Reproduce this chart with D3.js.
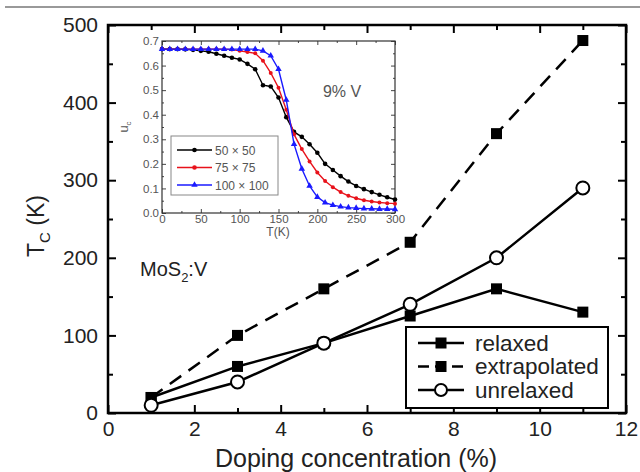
<!DOCTYPE html>
<html>
<head>
<meta charset="utf-8">
<script src="https://cdn.jsdelivr.net/npm/d3@7"></script>
<style>
  body { margin: 0; background: #fff; }
  svg text { font-family: "Liberation Sans", Arial, sans-serif; }
</style>
</head>
<body>
<svg width="640" height="472"></svg>
<script>
// main chart data
const doping = [1, 3, 5, 7, 9, 11];
const relaxed = [20, 60, 90, 125, 160, 130];
const extrapolated = [20, 100, 160, 220, 360, 480];
const unrelaxed = [10, 40, 90, 140, 200, 290];
const xTicks = [0, 2, 4, 6, 8, 10, 12];
const yTicks = [0, 100, 200, 300, 400, 500];

// inset data (9% V)
const insetT = [0, 10, 20, 30, 40, 50, 60, 70, 80, 90, 100, 110, 120, 130, 140, 150,
    160, 170, 180, 190, 200, 210, 220, 230, 240, 250, 260, 270, 280, 290, 300];
const u50 = [0.667, 0.667, 0.667, 0.666, 0.664, 0.660, 0.656, 0.648, 0.640, 0.632, 0.625,
    0.607, 0.585, 0.520, 0.515, 0.470, 0.390, 0.330, 0.310, 0.280, 0.245, 0.200, 0.175,
    0.150, 0.128, 0.110, 0.097, 0.085, 0.074, 0.064, 0.055];
const u75 = [0.667, 0.667, 0.667, 0.667, 0.667, 0.667, 0.667, 0.667, 0.667, 0.665, 0.660,
    0.655, 0.650, 0.620, 0.570, 0.510, 0.420, 0.320, 0.260, 0.210, 0.165, 0.130, 0.105,
    0.085, 0.070, 0.060, 0.052, 0.047, 0.043, 0.040, 0.038];
const u100 = [0.667, 0.667, 0.667, 0.667, 0.667, 0.667, 0.667, 0.667, 0.667, 0.667, 0.667,
    0.667, 0.667, 0.660, 0.640, 0.585, 0.460, 0.280, 0.180, 0.110, 0.065, 0.042, 0.032,
    0.026, 0.022, 0.020, 0.018, 0.017, 0.016, 0.016, 0.015];
const insetLabels = ["50 \u00d7 50", "75 \u00d7 75", "100 \u00d7 100"];
const insetColors = ["#000000", "#e8121b", "#1a1aff"];

var svg = d3.select("svg");

// cut-off line at the top of the scan
svg.append("line")
    .attr("x1", 5).attr("x2", 640).attr("y1", 7).attr("y2", 7)
    .attr("stroke", "#777").attr("stroke-width", 1.5);

var pLeft = 108, pRight = 626, pTop = 25, pBottom = 413;
var x = d3.scaleLinear().domain([0, 12]).range([pLeft, pRight]);
var y = d3.scaleLinear().domain([0, 500]).range([pBottom, pTop]);

function styleAxis(g, size) {
    g.select(".domain").remove();
    g.selectAll(".tick line").attr("stroke", "#000").attr("stroke-width", 2);
    g.selectAll("text").attr("fill", "#222").style("font-size", size + "px")
        .style("font-family", "'Liberation Sans', Arial, sans-serif");
}

var xMinor = [1, 3, 5, 7, 9, 11];
var yMinor = [50, 150, 250, 350, 450];

// major + minor ticks, inward, on all four sides
svg.append("g").attr("transform", "translate(0," + pBottom + ")")
    .call(d3.axisBottom(x).tickValues(xTicks).tickSize(-8).tickPadding(8).tickFormat(d3.format("d")))
    .call(g => styleAxis(g, 21));
svg.append("g").attr("transform", "translate(0," + pBottom + ")")
    .call(d3.axisBottom(x).tickValues(xMinor).tickSize(-5).tickFormat(""))
    .call(g => styleAxis(g, 21));
svg.append("g").attr("transform", "translate(0," + pTop + ")")
    .call(d3.axisTop(x).tickValues(xTicks).tickSize(-8).tickFormat(""))
    .call(g => styleAxis(g, 21));
svg.append("g").attr("transform", "translate(0," + pTop + ")")
    .call(d3.axisTop(x).tickValues(xMinor).tickSize(-5).tickFormat(""))
    .call(g => styleAxis(g, 21));
svg.append("g").attr("transform", "translate(" + pLeft + ",0)")
    .call(d3.axisLeft(y).tickValues(yTicks).tickSize(-8).tickPadding(10))
    .call(g => styleAxis(g, 21));
svg.append("g").attr("transform", "translate(" + pLeft + ",0)")
    .call(d3.axisLeft(y).tickValues(yMinor).tickSize(-5).tickFormat(""))
    .call(g => styleAxis(g, 21));
svg.append("g").attr("transform", "translate(" + pRight + ",0)")
    .call(d3.axisRight(y).tickValues(yTicks).tickSize(-8).tickFormat(""))
    .call(g => styleAxis(g, 21));
svg.append("g").attr("transform", "translate(" + pRight + ",0)")
    .call(d3.axisRight(y).tickValues(yMinor).tickSize(-5).tickFormat(""))
    .call(g => styleAxis(g, 21));

svg.append("rect")
    .attr("x", pLeft).attr("y", pTop).attr("width", pRight - pLeft).attr("height", pBottom - pTop)
    .attr("fill", "none").attr("stroke", "#000").attr("stroke-width", 2.5);

// axis titles
svg.append("text")
    .attr("x", 356).attr("y", 467)
    .attr("text-anchor", "middle").attr("fill", "#222").style("font-size", "25px")
    .text("Doping concentration (%)");
var yt = svg.append("text")
    .attr("transform", "translate(44,226) rotate(-90)")
    .attr("text-anchor", "middle").attr("fill", "#222").style("font-size", "23px");
yt.append("tspan").text("T");
yt.append("tspan").attr("dy", 6).style("font-size", "15px").text("C");
yt.append("tspan").attr("dy", -6).text(" (K)");

var mos = svg.append("text").attr("x", 140).attr("y", 276).attr("fill", "#222").style("font-size", "20px");
mos.append("tspan").text("MoS");
mos.append("tspan").attr("dy", 6).style("font-size", "13px").text("2");
mos.append("tspan").attr("dy", -6).text(":V");

// series
var line = d3.line().x(d => x(d[0])).y(d => y(d[1]));
function pairs(vals) { return doping.map((d, i) => [d, vals[i]]); }

svg.append("path").datum(pairs(extrapolated)).attr("d", line)
    .attr("fill", "none").attr("stroke", "#000").attr("stroke-width", 2.5)
    .attr("stroke-dasharray", "14,9");
svg.append("path").datum(pairs(relaxed)).attr("d", line)
    .attr("fill", "none").attr("stroke", "#000").attr("stroke-width", 2.5);
svg.append("path").datum(pairs(unrelaxed)).attr("d", line)
    .attr("fill", "none").attr("stroke", "#000").attr("stroke-width", 2.5);

[extrapolated, relaxed].forEach(function(vals) {
    svg.append("g").selectAll("rect").data(pairs(vals)).enter().append("rect")
        .attr("x", d => x(d[0]) - 5.5).attr("y", d => y(d[1]) - 5.5)
        .attr("width", 11).attr("height", 11).attr("fill", "#000");
});
svg.append("g").selectAll("circle").data(pairs(unrelaxed)).enter().append("circle")
    .attr("cx", d => x(d[0])).attr("cy", d => y(d[1])).attr("r", 6.5)
    .attr("fill", "#fff").attr("stroke", "#000").attr("stroke-width", 2);

// legend
var lg = svg.append("g");
lg.append("rect").attr("x", 406).attr("y", 327).attr("width", 202).attr("height", 81)
    .attr("fill", "#fff").attr("stroke", "#000").attr("stroke-width", 2);
var legendItems = [
    { name: "relaxed", dash: null, mark: "square" },
    { name: "extrapolated", dash: "11,6", mark: "square" },
    { name: "unrelaxed", dash: null, mark: "circle" }
];
legendItems.forEach(function(it, i) {
    var cy = 343 + i * 23.5;
    lg.append("line").attr("x1", 418).attr("x2", 464).attr("y1", cy).attr("y2", cy)
        .attr("stroke", "#000").attr("stroke-width", 2.5)
        .attr("stroke-dasharray", it.dash);
    if (it.mark === "square") {
        lg.append("rect").attr("x", 435.5).attr("y", cy - 5.5).attr("width", 11).attr("height", 11).attr("fill", "#000");
    } else {
        lg.append("circle").attr("cx", 441).attr("cy", cy).attr("r", 6)
            .attr("fill", "#fff").attr("stroke", "#000").attr("stroke-width", 2);
    }
    lg.append("text").attr("x", 475).attr("y", cy + 7.5).attr("fill", "#222")
        .style("font-size", "22.5px").text(it.name);
});

// ---------------- inset ----------------
var il = 162, ir = 395, itop = 41, ibot = 213;
var ix = d3.scaleLinear().domain([0, 300]).range([il, ir]);
var iy = d3.scaleLinear().domain([0, 0.7]).range([ibot, itop]);
var inset = svg.append("g");
inset.append("rect").attr("x", il - 40).attr("y", itop - 8).attr("width", ir - il + 52).attr("height", ibot - itop + 30)
    .attr("fill", "#fff");

function styleInset(g) {
    g.select(".domain").remove();
    g.selectAll(".tick line").attr("stroke", "#444").attr("stroke-width", 1);
    g.selectAll("text").attr("fill", "#555").style("font-size", "11.5px")
        .style("font-family", "'Liberation Sans', Arial, sans-serif");
}
var ixMajor = [0, 50, 100, 150, 200, 250, 300];
var ixMinor = [25, 75, 125, 175, 225, 275];
var iyMajor = [0, 0.1, 0.2, 0.3, 0.4, 0.5, 0.6, 0.7];
var iyMinor = [0.05, 0.15, 0.25, 0.35, 0.45, 0.55, 0.65];

inset.append("g").attr("transform", "translate(0," + ibot + ")")
    .call(d3.axisBottom(ix).tickValues(ixMajor).tickSize(-4).tickPadding(2)).call(styleInset);
inset.append("g").attr("transform", "translate(0," + ibot + ")")
    .call(d3.axisBottom(ix).tickValues(ixMinor).tickSize(-2).tickFormat("")).call(styleInset);
inset.append("g").attr("transform", "translate(0," + itop + ")")
    .call(d3.axisTop(ix).tickValues(ixMajor).tickSize(-4).tickFormat("")).call(styleInset);
inset.append("g").attr("transform", "translate(0," + itop + ")")
    .call(d3.axisTop(ix).tickValues(ixMinor).tickSize(-2).tickFormat("")).call(styleInset);
inset.append("g").attr("transform", "translate(" + il + ",0)")
    .call(d3.axisLeft(iy).tickValues(iyMajor).tickSize(-4).tickPadding(3).tickFormat(d3.format(".1f"))).call(styleInset);
inset.append("g").attr("transform", "translate(" + il + ",0)")
    .call(d3.axisLeft(iy).tickValues(iyMinor).tickSize(-2).tickFormat("")).call(styleInset);
inset.append("g").attr("transform", "translate(" + ir + ",0)")
    .call(d3.axisRight(iy).tickValues(iyMajor).tickSize(-4).tickFormat("")).call(styleInset);
inset.append("g").attr("transform", "translate(" + ir + ",0)")
    .call(d3.axisRight(iy).tickValues(iyMinor).tickSize(-2).tickFormat("")).call(styleInset);

inset.append("rect").attr("x", il).attr("y", itop).attr("width", ir - il).attr("height", ibot - itop)
    .attr("fill", "none").attr("stroke", "#333").attr("stroke-width", 1.2);

inset.append("text").attr("x", 278).attr("y", 236).attr("text-anchor", "middle")
    .attr("fill", "#555").style("font-size", "12px").text("T(K)");
var ut = inset.append("text").attr("transform", "translate(128,127) rotate(-90)")
    .attr("text-anchor", "middle").attr("fill", "#555").style("font-size", "13px");
ut.append("tspan").text("u");
ut.append("tspan").attr("dy", 3).style("font-size", "8px").text("c");
inset.append("text").attr("x", 342).attr("y", 97).attr("text-anchor", "middle")
    .attr("fill", "#555").style("font-size", "16px").text("9% V");

var iline = d3.line().x(d => ix(d[0])).y(d => iy(d[1]));
[u50, u75, u100].forEach(function(vals, k) {
    var pts = insetT.map((t, i) => [t, vals[i]]);
    var c = insetColors[k];
    inset.append("path").datum(pts).attr("d", iline)
        .attr("fill", "none").attr("stroke", c).attr("stroke-width", 1.4);
    var g = inset.append("g");
    if (k === 2) {
        g.selectAll("path").data(pts).enter().append("path")
            .attr("d", d3.symbol().type(d3.symbolTriangle).size(18))
            .attr("transform", d => "translate(" + ix(d[0]) + "," + iy(d[1]) + ")")
            .attr("fill", c);
    } else {
        g.selectAll("circle").data(pts).enter().append("circle")
            .attr("cx", d => ix(d[0])).attr("cy", d => iy(d[1])).attr("r", k === 0 ? 2.3 : 2)
            .attr("fill", c);
    }
});

// inset legend
var ilg = inset.append("g");
ilg.append("rect").attr("x", 171).attr("y", 136).attr("width", 107).attr("height", 59)
    .attr("fill", "#fff").attr("stroke", "#888").attr("stroke-width", 1);
insetLabels.forEach(function(name, i) {
    var cy = 150 + i * 17.5;
    ilg.append("line").attr("x1", 177).attr("x2", 212).attr("y1", cy).attr("y2", cy)
        .attr("stroke", insetColors[i]).attr("stroke-width", 1.4);
    if (i === 2) {
        ilg.append("path").attr("d", d3.symbol().type(d3.symbolTriangle).size(18))
            .attr("transform", "translate(194.5," + cy + ")").attr("fill", insetColors[i]);
    } else {
        ilg.append("circle").attr("cx", 194.5).attr("cy", cy).attr("r", 2.3).attr("fill", insetColors[i]);
    }
    ilg.append("text").attr("x", 215).attr("y", cy + 4.5).attr("fill", "#555")
        .style("font-size", "12px").text(name);
});
</script>
</body>
</html>
